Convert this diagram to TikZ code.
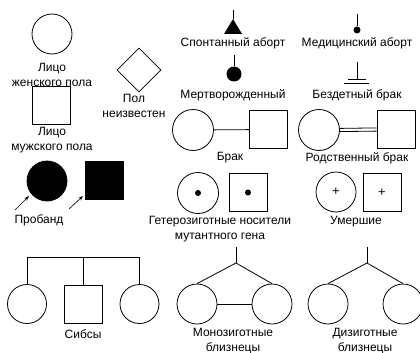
\documentclass[tikz,border=0pt]{standalone}
\usepackage{fontspec}
\setmainfont{Liberation Sans}
\usetikzlibrary{shapes.geometric,arrows.meta}
\begin{document}
\begin{tikzpicture}[x=1pt,y=-1pt,line width=0.8pt,
  fem/.style={circle,draw,minimum size=40pt,inner sep=0pt},
  mal/.style={rectangle,draw,minimum size=38pt,inner sep=0pt},
  lbl/.style={font=\fontsize{12}{15}\selectfont,align=center,inner sep=0pt},
  dotf/.style={circle,fill,inner sep=0pt,minimum size=6pt},
  ptr/.style={-{Stealth[length=5pt,width=3.5pt]},line width=0.6pt}]
\useasboundingbox (0,0) rectangle (420,353);
% left column
\node[fem] (f) at (52,34) {};
\node[lbl] (lf) at (52,75) {Лицо\\женского пола};
\node[diamond,draw,minimum width=44pt,minimum height=44pt,inner sep=0pt] (u) at (139,70) {};
\node[lbl] (lu) at (134,106) {Пол\\неизвестен};
\node[mal] (m) at (51.5,105) {};
\node[lbl] (lm) at (52,140) {Лицо\\мужского пола};
\node[fem,fill] (pf) at (47,181) {};
\node[mal,fill] (pm) at (104.5,180) {};
\coordinate (a1s) at (15,210); \coordinate (a1e) at (29,196);
\coordinate (a2s) at (69,209); \coordinate (a2e) at (83,196);
\draw[ptr] (a1s) -- (a1e);
\draw[ptr] (a2s) -- (a2e);
\node[lbl] (lp) at (39,220) {Пробанд};
% spontaneous abortion
\coordinate (sa0) at (233,10); \coordinate (sa1) at (233,19);
\coordinate (sa2) at (224,34); \coordinate (sa3) at (242,34);
\draw (sa0) -- (sa1);
\fill (sa1) -- (sa2) -- (sa3) -- cycle;
\node[lbl] (lsa) at (233,43) {Спонтанный аборт};
% medical abortion
\node[dotf,minimum size=7pt] (md) at (357,30) {};
\coordinate (ma0) at (357,14);
\draw (ma0) -- (md);
\node[lbl] (lma) at (357,43) {Медицинский аборт};
% stillborn
\node[dotf,minimum size=15pt] (sb) at (234,74) {};
\coordinate (sb0) at (234,55);
\draw (sb0) -- (sb);
\node[lbl] (lsb) at (233,95) {Мертворожденный};
% childless
\coordinate (c0) at (357,62); \coordinate (c1) at (357,79);
\coordinate (c2) at (348,79); \coordinate (c3) at (366,79);
\coordinate (c4) at (344,83); \coordinate (c5) at (369,83);
\draw (c0) -- (c1); \draw (c2) -- (c3); \draw (c4) -- (c5);
\node[lbl] (lc) at (357,95) {Бездетный брак};
% marriage
\node[fem,minimum size=41pt] (bf) at (193,130) {};
\node[mal] (bm) at (268.5,129.5) {};
\draw (bf) -- (bm);
\node[lbl] (lb) at (230,158) {Брак};
% consanguineous
\node[fem,minimum size=41pt] (rf) at (319,130) {};
\node[mal] (rm) at (396,129.5) {};
\draw ([yshift=-1.6pt]rf.east) -- ([yshift=-1.6pt]rm.west);
\draw ([yshift=1.6pt]rf.east) -- ([yshift=1.6pt]rm.west);
\node[lbl] (lr) at (357,158) {Родственный брак};
% heterozygous
\node[fem,minimum size=41pt] (hf) at (198,193) {};
\node[dotf] at (hf.center) {};
\node[mal] (hm) at (248,192.5) {};
\node[dotf] at (hm.center) {};
\node[lbl] (lh) at (220,229.5) {Гетерозиготные носители\\мутантного гена};
% deceased
\node[fem] (df) at (336,192) {\fontsize{13}{13}\selectfont +};
\node[mal] (dm) at (382,192.5) {\fontsize{13}{13}\selectfont +};
\node[lbl] (ld) at (356,222) {Умершие};
% sibs
\node[fem,minimum size=39pt] (s1) at (27,304) {};
\node[mal] (s2) at (83,304) {};
\node[fem,minimum size=39pt] (s3) at (139.5,304) {};
\coordinate (sl) at (27,257.5); \coordinate (sm) at (83,257.5); \coordinate (sr) at (139.5,257.5);
\draw (s1.north) -- (sl) -- (sr) -- (s3.north);
\draw (sm) -- (s2.north);
\node[lbl] (ls) at (83,334) {Сибсы};
% monozygotic
\coordinate (mt) at (236,247); \coordinate (mj) at (236,263);
\node[fem] (mz1) at (197,304) {};
\node[fem] (mz2) at (272,304) {};
\draw (mt) -- (mj);
\draw (mj) -- (mz1.north); \draw (mj) -- (mz2.north);
\draw (mz1) -- (mz2);
\node[lbl] (lmz) at (233,341) {Монозиготные\\близнецы};
% dizygotic
\coordinate (dt) at (367,247); \coordinate (dj) at (367,263);
\node[fem] (dz1) at (328,304) {};
\node[fem] (dz2) at (403,304) {};
\draw (dt) -- (dj);
\draw (dj) -- (dz1.north); \draw (dj) -- (dz2.north);
\node[lbl] (ldz) at (365,341) {Дизиготные\\близнецы};
\end{tikzpicture}
\end{document}
